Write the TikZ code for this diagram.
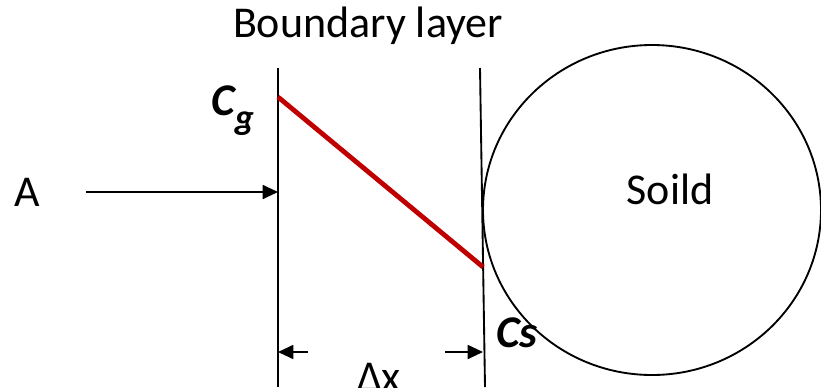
\documentclass[tikz,border=0pt]{standalone}
\usepackage{fontspec}
\setmainfont{Carlito}
\usepackage{xcolor}
\usetikzlibrary{arrows.meta,positioning,calc,shapes.geometric}
\definecolor{gradred}{RGB}{192, 0, 0}

\begin{document}
\begin{tikzpicture}[x=0.75pt,y=-0.75pt,>={Triangle[length=11.5pt,width=10.5pt]},
  every node/.style={font=\fontsize{33}{40}\selectfont,inner sep=0pt},
  wall/.style={line width=1.4pt},
  conc/.style={font=\fontsize{34}{40}\selectfont\bfseries\itshape}]
\useasboundingbox (0,0) rectangle (821,387);
% boundary layer walls
\coordinate (lt) at (278,68); \coordinate (lb) at (278,387);
\coordinate (rt) at (480,68); \coordinate (rb) at (485,387);
\draw[wall](lt)--(lb); \draw[wall](rt)--(rb);
% solid particle
\node[draw,ellipse,line width=1.4pt,minimum width=253.5pt,minimum height=247.5pt](particle) at (652,210){};
\node[anchor=base](soild) at (670,204){Soild};
\node[anchor=base](title) at (368,37){Boundary layer};
% bulk flow
\node[anchor=base](A) at (27,206){A};
\coordinate (ain) at (86,192); \coordinate (aout) at (278,192);
\draw[->,wall](ain)--(aout);
% concentration profile
\coordinate (cg) at (278,97); \coordinate (cs) at (483,267);
\draw[gradred,line width=3.6pt](cg)--(cs);
\node[conc,anchor=base west](Cg) at (211,115){C\raisebox{-11pt}{\fontsize{27}{30}\selectfont g}};
\node[conc,anchor=base west](Cs) at (496,347){Cs};
% film thickness
\coordinate (dl) at (308,352); \coordinate (dlw) at (278,352);
\coordinate (dr) at (445,352); \coordinate (drw) at (483,352);
\draw[->,wall](dl)--(dlw); \draw[->,wall](dr)--(drw);
\node[anchor=base](dx) at (379,391){Δx};
\end{tikzpicture}
\end{document}
